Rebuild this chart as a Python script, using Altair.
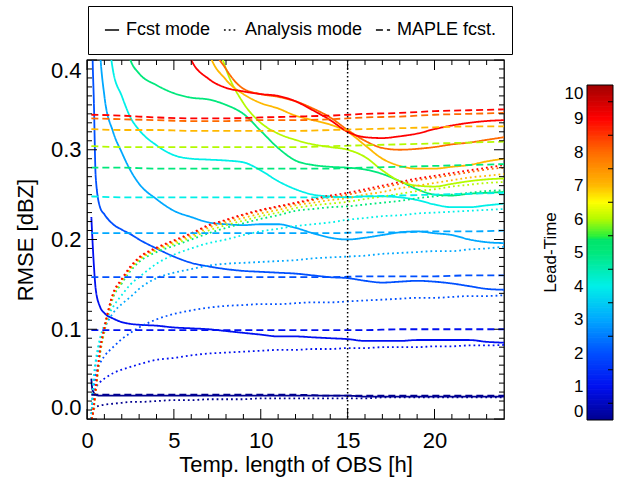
import altair as alt
import pandas as pd

# ---------------- data ----------------
LEADS = [0, 1, 2, 3, 4, 5, 6, 7, 8, 9]
MODES = ["Fcst mode", "Analysis mode", "MAPLE fcst."]

H = [0.25, 0.3, 0.4, 0.5, 0.75, 1, 1.5, 2, 2.5, 3, 4, 5, 6, 7, 8, 9, 10,
     11, 12, 13, 14, 15, 16, 17, 18, 19, 20, 21, 22, 23, 24]
N = None

FCST_0 = [0.045, 0.034, 0.029, 0.027, 0.026, 0.026, 0.026, 0.026, 0.026, 0.026, 0.026, 0.026, 0.026, 0.026, 0.026, 0.026, 0.026, 0.026, 0.026, 0.026, 0.026, 0.026, 0.025, 0.025, 0.025, 0.025, 0.025, 0.025, 0.025, 0.025, 0.025]
FCST_1 = [0.225, 0.205, 0.17, 0.145, 0.125, 0.118, 0.112, 0.108, 0.106, 0.105, 0.104, 0.102, 0.101, 0.100, 0.098, 0.096, 0.094, 0.092, 0.092, 0.091, 0.090, 0.089, 0.087, 0.087, 0.087, 0.088, 0.088, 0.088, 0.088, 0.086, 0.085]
FCST_2 = [0.52, 0.43, 0.35, 0.27, 0.236, 0.228, 0.217, 0.211, 0.206, 0.200, 0.19, 0.181, 0.174, 0.170, 0.167, 0.165, 0.164, 0.163, 0.162, 0.160, 0.158, 0.157, 0.154, 0.152, 0.153, 0.154, 0.153, 0.151, 0.148, 0.145, 0.144]
FCST_3 = [N, N, N, 0.52, 0.41, 0.36, 0.32, 0.297, 0.277, 0.262, 0.245, 0.232, 0.225, 0.219, 0.217, 0.216, 0.217, 0.217, 0.213, 0.207, 0.202, 0.200, 0.202, 0.205, 0.208, 0.209, 0.207, 0.205, 0.200, 0.197, 0.196]
FCST_4 = [N, N, N, N, N, 0.47, 0.388, 0.36, 0.336, 0.322, 0.305, 0.294, 0.29, 0.289, 0.288, 0.286, 0.277, 0.265, 0.256, 0.25, 0.248, 0.247, 0.248, 0.248, 0.247, 0.244, 0.239, 0.236, 0.236, 0.238, 0.240]
FCST_5 = [N, N, N, N, N, N, N, 0.44, 0.40, 0.385, 0.372, 0.363, 0.358, 0.356, 0.350, 0.340, 0.321, 0.302, 0.288, 0.283, 0.281, 0.28, 0.278, 0.273, 0.265, 0.256, 0.25, 0.249, 0.251, 0.252, 0.253]
FCST_6 = [N, N, N, N, N, N, N, N, N, N, N, N, 0.58, 0.46, 0.39, 0.352, 0.33, 0.318, 0.311, 0.306, 0.303, 0.30, 0.292, 0.277, 0.265, 0.26, 0.259, 0.262, 0.265, 0.267, 0.268]
FCST_7 = [N, N, N, N, N, N, N, N, N, N, N, N, 0.52, 0.41, 0.378, 0.362, 0.352, 0.346, 0.338, 0.333, 0.328, 0.320, 0.305, 0.29, 0.282, 0.279, 0.279, 0.281, 0.283, 0.287, 0.29]
FCST_8 = [N, N, N, N, N, N, N, N, N, N, N, N, 0.55, 0.43, 0.39, 0.368, 0.362, 0.359, 0.354, 0.346, 0.336, 0.322, 0.31, 0.302, 0.30, 0.301, 0.303, 0.306, 0.308, 0.311, 0.314]
FCST_9 = [N, N, N, N, N, N, N, N, N, N, N, 0.46, 0.40, 0.379, 0.369, 0.365, 0.362, 0.36, 0.354, 0.344, 0.333, 0.32, 0.314, 0.313, 0.315, 0.318, 0.323, 0.327, 0.33, 0.332, 0.333]

ANA_0 = [0.0, 0.006, 0.011, 0.013, 0.015, 0.016, 0.017, 0.018, 0.019, 0.019, 0.020, 0.021, 0.021, 0.022, 0.022, 0.022, 0.023, 0.023, 0.023, 0.023, 0.023, 0.023, 0.023, 0.024, 0.024, 0.024, 0.024, 0.024, 0.024, 0.024, 0.024]
ANA_1 = [0.0, 0.012, 0.026, 0.034, 0.041, 0.045, 0.051, 0.055, 0.058, 0.061, 0.066, 0.068, 0.071, 0.073, 0.074, 0.075, 0.076, 0.077, 0.077, 0.078, 0.078, 0.079, 0.079, 0.080, 0.080, 0.080, 0.081, 0.081, 0.082, 0.082, 0.0825]
ANA_2 = [0.0, 0.015, 0.035, 0.048, 0.062, 0.070, 0.080, 0.089, 0.096, 0.102, 0.111, 0.117, 0.121, 0.124, 0.126, 0.127, 0.128, 0.128, 0.129, 0.130, 0.130, 0.131, 0.132, 0.133, 0.134, 0.135, 0.135, 0.136, 0.137, 0.137, 0.138]
ANA_3 = [0.0, 0.02, 0.045, 0.06, 0.085, 0.10, 0.118, 0.128, 0.136, 0.145, 0.157, 0.163, 0.167, 0.171, 0.173, 0.174, 0.175, 0.176, 0.177, 0.179, 0.180, 0.181, 0.182, 0.184, 0.185, 0.186, 0.187, 0.187, 0.189, 0.190, 0.192]
ANA_4 = [0.0, 0.02, 0.05, 0.065, 0.09, 0.105, 0.125, 0.138, 0.15, 0.158, 0.173, 0.183, 0.19, 0.196, 0.20, 0.205, 0.209, 0.212, 0.215, 0.217, 0.219, 0.222, 0.224, 0.226, 0.227, 0.229, 0.23, 0.231, 0.232, 0.233, 0.234]
ANA_5 = [0.0, 0.002, 0.013, 0.03, 0.072, 0.097, 0.135, 0.151, 0.165, 0.175, 0.186, 0.193, 0.2, 0.207, 0.213, 0.218, 0.223, 0.227, 0.232, 0.234, 0.236, 0.237, 0.239, 0.241, 0.243, 0.246, 0.248, 0.25, 0.252, 0.254, 0.255]
ANA_6 = [0.0, 0.002, 0.014, 0.031, 0.074, 0.099, 0.137, 0.153, 0.167, 0.177, 0.188, 0.195, 0.202, 0.21, 0.216, 0.221, 0.226, 0.23, 0.235, 0.238, 0.24, 0.242, 0.245, 0.248, 0.251, 0.254, 0.256, 0.259, 0.261, 0.263, 0.264]
ANA_7 = [0.0, 0.002, 0.015, 0.032, 0.075, 0.1, 0.138, 0.154, 0.168, 0.178, 0.189, 0.197, 0.204, 0.213, 0.219, 0.224, 0.229, 0.233, 0.238, 0.241, 0.244, 0.246, 0.25, 0.253, 0.257, 0.26, 0.263, 0.266, 0.269, 0.271, 0.273]
ANA_8 = [0.0, 0.002, 0.015, 0.033, 0.076, 0.101, 0.139, 0.155, 0.169, 0.179, 0.19, 0.198, 0.206, 0.215, 0.221, 0.227, 0.232, 0.236, 0.240, 0.244, 0.247, 0.25, 0.254, 0.258, 0.262, 0.266, 0.269, 0.272, 0.275, 0.278, 0.28]
ANA_9 = [0.0, 0.002, 0.016, 0.034, 0.077, 0.102, 0.14, 0.156, 0.17, 0.18, 0.191, 0.199, 0.207, 0.216, 0.222, 0.228, 0.233, 0.237, 0.241, 0.245, 0.249, 0.252, 0.256, 0.26, 0.264, 0.268, 0.271, 0.274, 0.277, 0.28, 0.283]

H_M = [0.25, 2, 4, 6, 8, 10, 12, 14, 16, 18, 20, 22, 24]
MAPLE_0 = [0.027, 0.027, 0.027, 0.027, 0.027, 0.027, 0.027, 0.026, 0.026, 0.026, 0.026, 0.026, 0.026]
MAPLE_1 = [0.099, 0.099, 0.099, 0.099, 0.099, 0.099, 0.099, 0.099, 0.099, 0.1, 0.1, 0.1, 0.1]
MAPLE_2 = [0.158, 0.158, 0.158, 0.158, 0.158, 0.158, 0.158, 0.158, 0.159, 0.159, 0.159, 0.16, 0.16]
MAPLE_3 = [0.207, 0.207, 0.207, 0.207, 0.207, 0.207, 0.207, 0.207, 0.208, 0.208, 0.209, 0.209, 0.21]
MAPLE_4 = [0.248, 0.247, 0.247, 0.247, 0.247, 0.247, 0.247, 0.247, 0.248, 0.249, 0.25, 0.251, 0.252]
MAPLE_5 = [0.280, 0.280, 0.279, 0.279, 0.279, 0.279, 0.279, 0.279, 0.280, 0.281, 0.282, 0.283, 0.284]
MAPLE_6 = [0.304, 0.303, 0.303, 0.303, 0.303, 0.303, 0.303, 0.304, 0.305, 0.306, 0.307, 0.308, 0.309]
MAPLE_7 = [0.323, 0.322, 0.322, 0.321, 0.321, 0.321, 0.321, 0.322, 0.323, 0.324, 0.325, 0.326, 0.326]
MAPLE_8 = [0.335, 0.334, 0.333, 0.332, 0.332, 0.333, 0.333, 0.334, 0.336, 0.337, 0.339, 0.34, 0.341]
MAPLE_9 = [0.339, 0.338, 0.336, 0.335, 0.335, 0.336, 0.337, 0.338, 0.340, 0.341, 0.343, 0.344, 0.345]

FCST = [FCST_0, FCST_1, FCST_2, FCST_3, FCST_4, FCST_5, FCST_6, FCST_7, FCST_8, FCST_9]
ANA = [ANA_0, ANA_1, ANA_2, ANA_3, ANA_4, ANA_5, ANA_6, ANA_7, ANA_8, ANA_9]
MAPLE = [MAPLE_0, MAPLE_1, MAPLE_2, MAPLE_3, MAPLE_4, MAPLE_5, MAPLE_6, MAPLE_7, MAPLE_8, MAPLE_9]

# axis tick positions
X_MAJOR = [0, 5, 10, 15, 20]
X_MINOR = [h for h in range(1, 24) if h % 5 != 0]
Y_MAJOR = [0.0, 0.1, 0.2, 0.3, 0.4]
Y_MINOR = [round(i * 0.01, 2) for i in range(1, 40) if i % 10 != 0]
CB_LABELS = list(range(11))
CB_MINOR = [i + 0.5 for i in range(10)]

# colour table for Lead-Time
CB_DOMAIN = [0, 1, 2, 3, 4, 5, 5.4, 5.45, 6, 6.5, 7, 8, 9, 10]
CB_COLORS = ["#000090", "#0010F0", "#0050FF", "#00A8FF", "#00F0E8", "#00E87C",
             "#00E468", "#20F040", "#B4FA00", "#FFFF00", "#FFB800", "#FF6A00",
             "#FF0000", "#A00000"]

# ---------------- build table ----------------
rows = []
for mode, hours, table in [(MODES[0], H, FCST), (MODES[1], H, ANA), (MODES[2], H_M, MAPLE)]:
    for lead, vals in zip(LEADS, table):
        for h, v in zip(hours, vals):
            if v is not None:
                rows.append({"h": h, "v": v, "lead": lead, "mode": mode,
                             "series": f"{mode}-{lead}"})
df = pd.DataFrame(rows)

W, HT = 417, 359
FONT = "Liberation Sans"
FS = 22
CSCALE = alt.Scale(domain=CB_DOMAIN, range=CB_COLORS, interpolate="rgb")
XS = alt.Scale(domain=[0, 24], nice=False, zero=False)
YS = alt.Scale(domain=[0, 0.4], nice=False)
CBY = alt.Scale(domain=[0, 10], range=[360, 25], nice=False)

lines = alt.Chart(df).mark_line(clip=True, interpolate="monotone", strokeWidth=1.8).encode(
    x=alt.X("h:Q", scale=XS,
            axis=alt.Axis(values=X_MAJOR, ticks=False, domain=False, grid=False,
                          labelFontSize=FS, labelPadding=11, labelFlush=False,
                          title="Temp. length of OBS [h]", titleFontSize=FS,
                          titlePadding=3)),
    y=alt.Y("v:Q", scale=YS,
            axis=alt.Axis(values=Y_MAJOR, format=".1f", ticks=False, domain=False,
                          grid=False, labelFontSize=FS, labelPadding=6, orient="left",
                          labelFlush=True, title="RMSE [dBZ]", titleFontSize=FS,
                          titlePadding=13)),
    color=alt.Color("lead:Q", scale=CSCALE, legend=None),
    strokeDash=alt.StrokeDash(
        "mode:N",
        scale=alt.Scale(domain=MODES, range=[[1, 0], [1.8, 3], [7, 4]]),
        legend=alt.Legend(title=None, orient="none", legendX=1, legendY=-54,
                          direction="horizontal", symbolType="stroke",
                          symbolStrokeColor="black", symbolStrokeWidth=1.6,
                          symbolSize=200, labelFontSize=18, labelFont=FONT,
                          labelOffset=5, columnPadding=9, padding=15,
                          fillColor="white", strokeColor="black")),
    detail="series:N",
    order=alt.Order("h:Q"),
)

vline = alt.Chart(pd.DataFrame({"h": [15]})).mark_rule(
    color="black", strokeDash=[1.5, 2.5], strokeWidth=1.5).encode(x=alt.X("h:Q", scale=XS))


def xticks(vals, length):
    d = pd.DataFrame({"h": vals})
    bot = alt.Chart(d).mark_rule(color="black", strokeWidth=1).encode(
        x=alt.X("h:Q", scale=XS), y=alt.value(HT), y2=alt.value(HT - length))
    top = alt.Chart(d).mark_rule(color="black", strokeWidth=1).encode(
        x=alt.X("h:Q", scale=XS), y=alt.value(0), y2=alt.value(length))
    return [bot, top]


def yticks(vals, length):
    d = pd.DataFrame({"v": vals})
    left = alt.Chart(d).mark_rule(color="black", strokeWidth=1).encode(
        y=alt.Y("v:Q", scale=YS, axis=None), x=alt.value(0), x2=alt.value(length))
    right = alt.Chart(d).mark_rule(color="black", strokeWidth=1).encode(
        y=alt.Y("v:Q", scale=YS, axis=None), x=alt.value(W), x2=alt.value(W - length))
    return [left, right]


ticks = xticks(X_MAJOR, 10) + xticks(X_MINOR, 5) + yticks(Y_MAJOR, 10) + yticks(Y_MINOR, 5)

# ---------------- colour bar (own y scale, drawn right of the plot) ----------------
STEP = 0.05
cb_rows = []
for i in range(200):
    v0 = round(i * STEP, 3)
    cb_rows.append({"cb0": v0, "cb1": min(round(v0 + 0.07, 3), 10), "lead": v0 + STEP / 2})
cb_df = pd.DataFrame(cb_rows)
CBX0, CBX1 = W + 83, W + 109

cb_fill = alt.Chart(cb_df).mark_rect().encode(
    y=alt.Y("cb0:Q", scale=CBY,
            axis=alt.Axis(values=CB_LABELS, ticks=False, domain=False, grid=False,
                          orient="right", offset=83, labelAlign="right",
                          labelPadding=-4, labelFontSize=17, labelFlush=True,
                          title="Lead-Time", titleFontSize=17, titleAngle=270,
                          titleX=-37, titleY=192, titleAlign="center",
                          titleBaseline="middle")),
    y2="cb1:Q",
    x=alt.value(CBX0), x2=alt.value(CBX1),
    color=alt.Color("lead:Q", scale=CSCALE, legend=None),
)
cb_frame = alt.Chart(pd.DataFrame({"cb0": [0], "cb1": [10]})).mark_rect(
    fillOpacity=0, stroke="black", strokeWidth=1).encode(
    y=alt.Y("cb0:Q", scale=CBY, axis=None), y2="cb1:Q",
    x=alt.value(CBX0), x2=alt.value(CBX1))
cb_ticks = alt.Chart(pd.DataFrame({"cb0": CB_MINOR})).mark_rule(color="black").encode(
    y=alt.Y("cb0:Q", scale=CBY, axis=None), x=alt.value(CBX1), x2=alt.value(CBX1 - 5))

chart = alt.layer(lines, cb_fill, vline, cb_frame, cb_ticks, *ticks).resolve_scale(
    y="independent"
).properties(
    width=W, height=HT,
    padding={"left": 87, "top": 60, "right": 117, "bottom": 61},
    autosize=alt.AutoSizeParams(type="none"),
    view=alt.ViewBackground(stroke="black", strokeWidth=1.3),
).configure(font=FONT).configure_axis(
    labelColor="black", titleColor="black", titleFontWeight="normal",
    labelFont=FONT, titleFont=FONT)

chart.save("out.html", embed_options={"renderer": "svg", "actions": False})
